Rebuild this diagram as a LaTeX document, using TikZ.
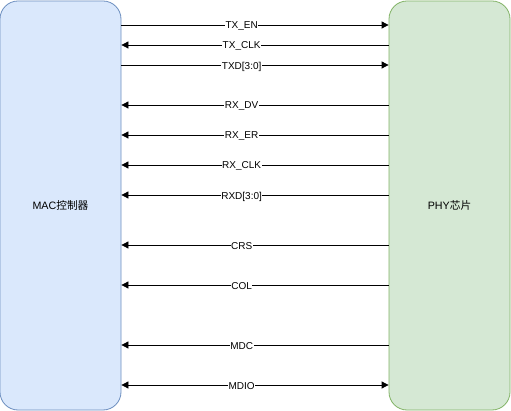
\documentclass[tikz,border=0pt]{standalone}
\usepackage{fontspec}
\setmainfont{Liberation Sans}
\newfontfamily\cjk{Noto Sans CJK SC}
\usepackage{tikz}
\usetikzlibrary{arrows.meta,positioning}
\definecolor{macfill}{HTML}{DAE8FC}
\definecolor{macdraw}{HTML}{6C8EBF}
\definecolor{phyfill}{HTML}{D5E8D4}
\definecolor{phydraw}{HTML}{82B366}
\tikzstyle{chip} = [rectangle, draw, rounded corners=18pt, minimum width=121pt, minimum height=409pt, font=\fontsize{10.7}{12}\selectfont, line width=0.8pt]
\tikzstyle{line} = [draw, line width=0.8pt, -{Triangle[length=7pt,width=7pt]}]
\tikzstyle{sig} = [fill=white, inner sep=0.5pt, font=\fontsize{10}{11}\selectfont, yshift=-1.5pt, pos=0.45]

\begin{document}
\begin{tikzpicture}[x=1pt, y=-1pt]
    \useasboundingbox (0,0) rectangle (511,411);
    % Place nodes
    \node [chip, fill=macfill, draw=macdraw] (mac) at (60.5,205.5) {MAC{\cjk 控制器}};
    \node [chip, fill=phyfill, draw=phydraw] (phy) at (449.5,205.5) {PHY{\cjk 芯片}};
    % Draw edges
    \path [line] (mac.east |- 0,25) -- node [sig] (txen) {TX\_EN} (phy.west |- 0,25);
    \path [line] (phy.west |- 0,45) -- node [sig, pos=0.55] (txclk) {TX\_CLK} (mac.east |- 0,45);
    \path [line] (mac.east |- 0,65) -- node [sig] (txd) {TXD[3:0]} (phy.west |- 0,65);
    \path [line] (phy.west |- 0,105) -- node [sig, pos=0.55] (rxdv) {RX\_DV} (mac.east |- 0,105);
    \path [line] (phy.west |- 0,135) -- node [sig, pos=0.55] (rxer) {RX\_ER} (mac.east |- 0,135);
    \path [line] (phy.west |- 0,165) -- node [sig, pos=0.55] (rxclk) {RX\_CLK} (mac.east |- 0,165);
    \path [line] (phy.west |- 0,195) -- node [sig, pos=0.55] (rxd) {RXD[3:0]} (mac.east |- 0,195);
    \path [line] (phy.west |- 0,245) -- node [sig, pos=0.55] (crs) {CRS} (mac.east |- 0,245);
    \path [line] (phy.west |- 0,285) -- node [sig, pos=0.55] (col) {COL} (mac.east |- 0,285);
    \path [line] (phy.west |- 0,345) -- node [sig, pos=0.55] (mdc) {MDC} (mac.east |- 0,345);
    \path [line, {Triangle[length=7pt,width=7pt]}-{Triangle[length=7pt,width=7pt]}] (mac.east |- 0,385) -- node [sig] (mdio) {MDIO} (phy.west |- 0,385);

\end{tikzpicture}
\end{document}
